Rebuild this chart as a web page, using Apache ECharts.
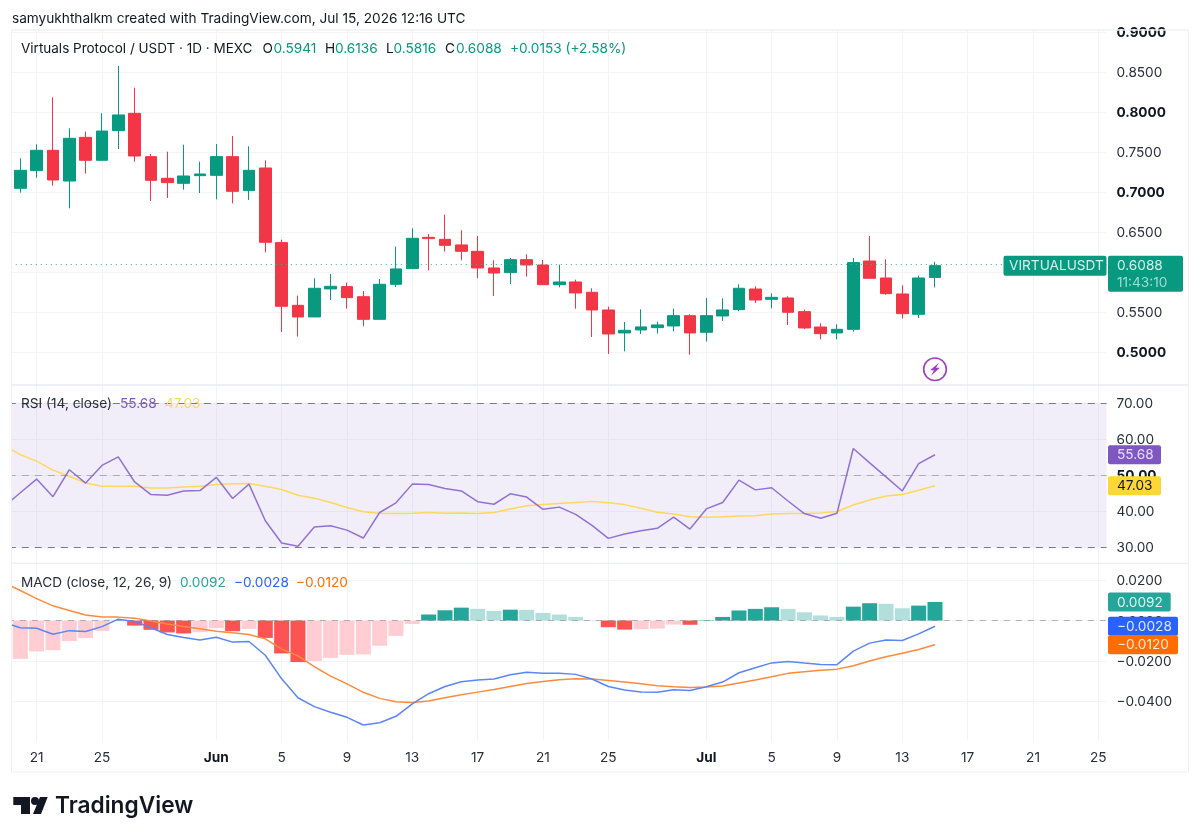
<!DOCTYPE html>
<html><head><meta charset="utf-8">
<style>html,body{margin:0;padding:0;background:#fff}#c{width:1200px;height:840px}</style>
<script src="https://cdn.jsdelivr.net/npm/echarts@6/dist/echarts.min.js"></script>
</head><body><div id="c"></div>
<script>
const categories=['May 19','May 20','May 21','May 22','May 23','May 24','May 25','May 26','May 27','May 28','May 29','May 30','May 31','Jun 1','Jun 2','Jun 3','Jun 4','Jun 5','Jun 6','Jun 7','Jun 8','Jun 9','Jun 10','Jun 11','Jun 12','Jun 13','Jun 14','Jun 15','Jun 16','Jun 17','Jun 18','Jun 19','Jun 20','Jun 21','Jun 22','Jun 23','Jun 24','Jun 25','Jun 26','Jun 27','Jun 28','Jun 29','Jun 30','Jul 1','Jul 2','Jul 3','Jul 4','Jul 5','Jul 6','Jul 7','Jul 8','Jul 9','Jul 10','Jul 11','Jul 12','Jul 13','Jul 14','Jul 15','Jul 16','Jul 17','Jul 18','Jul 19','Jul 20','Jul 21','Jul 22','Jul 23','Jul 24','Jul 25'];
const timeTicks=['May 21','May 25','Jun 1','Jun 5','Jun 9','Jun 13','Jun 17','Jun 21','Jun 25','Jul 1','Jul 5','Jul 9','Jul 13','Jul 17','Jul 21','Jul 25'];
const opens=[null,.7055,.7276,.753,.7146,.7692,.7405,.7776,.7992,.7451,.718,.7117,.7213,.7217,.7451,.7026,.7309,.6376,.5592,.5447,.5797,.5826,.57,.5417,.5855,.6051,.6442,.6417,.6347,.6267,.6059,.6001,.6163,.6096,.585,.5884,.5755,.5534,.5247,.5284,.5313,.5334,.5463,.5255,.5459,.5538,.5796,.5667,.5684,.5513,.5321,.5247,.5292,.6146,.5934,.5734,.548,.5941];
const highs=[null,.743,.7605,.8192,.7805,.7763,.7992,.8584,.8313,.7484,.7513,.76,.7388,.7609,.7709,.758,.7405,.6413,.5713,.593,.5984,.5876,.5771,.5921,.6326,.6555,.6484,.6726,.653,.6459,.6155,.6184,.623,.6159,.6101,.5913,.5805,.5576,.5384,.5542,.5388,.5551,.548,.5684,.568,.5855,.583,.5742,.5705,.5538,.5367,.5355,.6184,.6459,.6167,.5842,.5963,.6136];
const lows=[null,.7001,.7188,.7088,.6805,.7238,.7405,.7546,.7388,.6897,.6934,.7038,.6996,.6917,.6867,.6909,.6255,.5259,.5201,.5447,.5659,.5551,.533,.5417,.5821,.6051,.603,.6263,.6155,.593,.5709,.5859,.5951,.5846,.5817,.555,.5196,.4984,.5017,.5234,.5238,.5267,.4976,.5138,.5397,.5517,.5621,.5555,.5346,.5296,.5167,.5167,.5263,.593,.5726,.5426,.5434,.5816];
const closes=[null,.728,.753,.7159,.768,.7405,.7771,.7972,.7459,.7155,.7126,.7209,.7234,.7451,.7017,.728,.638,.558,.5447,.5805,.583,.5688,.5417,.5855,.6047,.643,.6426,.6342,.6267,.6059,.5996,.6163,.6096,.585,.5884,.5747,.5534,.5234,.528,.5322,.5347,.5463,.5247,.5463,.5534,.5805,.5659,.5692,.5505,.5309,.5238,.5292,.6126,.593,.5738,.5488,.5934,.6088];
const rsi=[41.2,45.1,48.9,44.0,51.5,47.8,52.7,55.1,48.1,44.6,44.4,45.6,45.7,49.4,43.5,47.5,37.3,31.1,30.2,35.6,35.9,34.7,32.5,39.6,42.3,47.5,47.4,46.3,45.6,42.6,41.9,44.8,43.9,40.5,41.1,39.1,36.0,32.4,33.6,34.5,35.2,38.3,35.0,40.6,42.4,48.6,45.9,46.5,42.8,39.3,38.0,39.4,57.4,53.4,49.5,45.6,53.2,55.68];
const rsiMa=[58.3,55.7,53.9,51.4,49.7,47.8,46.9,46.9,46.9,46.4,46.4,46.7,46.9,47.4,47.6,47.7,46.9,46.0,44.4,43.6,42.4,41.0,39.8,39.4,39.3,39.4,39.6,39.4,39.5,39.3,39.6,40.6,41.5,41.8,42.1,42.4,42.7,42.3,41.8,40.8,39.7,39.2,38.4,38.3,38.4,38.6,38.7,39.2,39.3,39.3,39.5,39.9,41.7,43.1,44.2,44.6,45.8,47.03];
const macdLine=[-.001,-.0036,-.0038,-.0068,-.005,-.0054,-.003,.0007,-.0005,-.0036,-.0069,-.0084,-.0096,-.0083,-.0107,-.0104,-.0172,-.0289,-.0383,-.0427,-.0455,-.048,-.0518,-.0507,-.0475,-.0413,-.0363,-.0327,-.0304,-.0295,-.029,-.0269,-.0257,-.0262,-.0261,-.0267,-.029,-.0327,-.0345,-.0355,-.0356,-.0343,-.0347,-.0328,-.0305,-.0259,-.0234,-.021,-.0203,-.0211,-.0218,-.0219,-.0152,-.0112,-.0096,-.0099,-.0066,-.0028];
const signalLine=[.0188,.0149,.0109,.0073,.005,.0028,.0018,.0017,.0012,-.0002,-.0017,-.003,-.0041,-.0053,-.0061,-.0069,-.0091,-.0142,-.0175,-.0229,-.0276,-.0314,-.0356,-.0386,-.0403,-.0406,-.0399,-.0383,-.0368,-.0355,-.0342,-.0327,-.0312,-.0302,-.0294,-.0289,-.029,-.0297,-.0305,-.0314,-.0323,-.0328,-.0332,-.033,-.0325,-.031,-.0295,-.0279,-.0262,-.0254,-.0246,-.0241,-.0224,-.0201,-.018,-.0162,-.0144,-.012];
const histogram=[-.0205,-.019,-.0153,-.0147,-.0102,-.0087,-.0051,-.0003,-.0025,-.0046,-.0059,-.0064,-.0058,-.0038,-.0053,-.0041,-.0086,-.0163,-.0206,-.0201,-.0185,-.017,-.0168,-.0125,-.0076,-.0017,.003,.0051,.0064,.0058,.0048,.0054,.0053,.0038,.003,.0018,.0002,-.0033,-.0045,-.0043,-.004,-.002,-.0021,.0002,.0018,.005,.0058,.0066,.0058,.0041,.0025,.0018,.0069,.0086,.0083,.0061,.0074,.0092];
const priceTicks=[.5,.55,.6,.65,.7,.75,.8,.85,.9];
const boldPrices=[.5,.7,.8,.9];
const rsiTicks=[30,40,50,60,70];
const macdTicks=[-.04,-.02,0,.02];
const lastOHLC={o:'0.5941',h:'0.6136',l:'0.5816',c:'0.6088',chg:'+0.0153 (+2.58%)'};

const C={up:'#089981',down:'#f23645',ink:'#131722',grid:'#f3f4f6',sep:'#e9ebef',rsi:'#7e57c2',ma:'#fdd835',blue:'#2962ff',orange:'#ff6d00',hUp:'#26a69a',hUpP:'#b2dfdb',hDn:'#ff5252',hDnP:'#ffcdd2'};
const FONT='Inter, "Noto Sans", sans-serif';
const FS=13.65;
const gridLeft=-4.2, gridW=1110.7;
const panes=[{top:30,h:355,min:.4596,max:.9034},{top:385,h:178.3,min:25.47,max:75.08},{top:563.3,h:177.4,min:-.0596,max:.0284}];
const isTick=(i)=>timeTicks.includes(categories[i]);

const xAxes=panes.map((p,k)=>({type:'category',gridIndex:k,data:categories,boundaryGap:true,
  axisLine:{show:false},axisTick:{show:false,alignWithLabel:true},
  splitLine:{show:true,alignWithLabel:true,interval:(i)=>isTick(i),lineStyle:{color:C.grid,width:1}},
  axisLabel:k<2?{show:false}:{show:true,interval:(i)=>isTick(i),margin:10,fontFamily:FONT,fontSize:FS,color:'#2a2e39',
    formatter:(v)=>{const [m,d]=v.split(' ');return d==='1'?`{b|${m}}`:d;},rich:{b:{fontWeight:700,fontFamily:FONT,fontSize:FS,color:C.ink}}}
}));
const yBase=(k,ticks,fmt,pad)=>({type:'value',gridIndex:k,position:'right',min:panes[k].min,max:panes[k].max,scale:true,
  axisLine:{show:false},axisTick:{show:false,customValues:ticks},
  splitLine:{show:true,lineStyle:{color:C.grid,width:1}},
  axisLabel:{show:true,customValues:ticks,margin:10,fontFamily:FONT,fontSize:FS,color:'#2a2e39',formatter:fmt,hideOverlap:false,showMinLabel:true,showMaxLabel:true,padding:[pad,0,0,0],
    rich:{b:{fontWeight:700,fontFamily:FONT,fontSize:FS,color:C.ink}}}});
const dash=(val,op)=>({yAxis:val,lineStyle:{color:'#787b86',type:[7,6],width:1.2,opacity:op}});
const lastClose=closes[closes.length-1];

const option={animation:false,backgroundColor:'#fff',textStyle:{fontFamily:FONT},
 grid:panes.map(p=>({left:gridLeft,width:gridW,top:p.top,height:p.h,containLabel:false,outerBoundsMode:'none'})),
 xAxis:xAxes,
 yAxis:[
  yBase(0,priceTicks,(v)=>{const s=(+v).toFixed(4);return boldPrices.some(b=>Math.abs(b-v)<1e-6)?`{b|${s}}`:s;},0),
  yBase(1,rsiTicks,(v)=>{const s=(+v).toFixed(2);return Math.abs(v-50)<1e-6?`{b|${s}}`:s;},2),
  yBase(2,macdTicks,(v)=>(+v).toFixed(4).replace('-','\u2212'),2)
 ],
 series:[
  {type:'candlestick',xAxisIndex:0,yAxisIndex:0,barWidth:12,
   data:opens.map((o,i)=>o===null?['-','-','-','-']:[o,closes[i],lows[i],highs[i]]),
   itemStyle:{color:C.up,color0:C.down,borderColor:C.up,borderColor0:C.down,borderWidth:1},
   markLine:{silent:true,symbol:'none',label:{show:false},data:[{yAxis:lastClose,lineStyle:{color:'#3bb09c',type:[1,4],width:1}}]}},
  {type:'line',name:'RSI MA',xAxisIndex:1,yAxisIndex:1,data:rsiMa,showSymbol:false,lineStyle:{color:'#fdd85a',width:1.5},z:3},
  {type:'line',name:'RSI',xAxisIndex:1,yAxisIndex:1,data:rsi,showSymbol:false,lineStyle:{color:'#9172d2',width:1.5},z:4,
   markArea:{silent:true,itemStyle:{color:'rgba(126,87,194,0.1)'},data:[[{yAxis:30},{yAxis:70}]]},
   markLine:{silent:true,symbol:'none',label:{show:false},data:[dash(70,1),dash(50,.55),dash(30,1)]}},
  {type:'bar',name:'Histogram',xAxisIndex:2,yAxisIndex:2,barWidth:15,
   data:histogram.map((v,i)=>{const p=i?histogram[i-1]:v;const col=v>=0?(v>=p?C.hUp:C.hUpP):(v<=p?C.hDn:C.hDnP);return {value:v,itemStyle:{color:col}};}),
   markLine:{silent:true,symbol:'none',label:{show:false},data:[{yAxis:0,lineStyle:{color:'#787b86',type:[6,6],width:1,opacity:.55}}]}},
  {type:'line',name:'Signal',xAxisIndex:2,yAxisIndex:2,data:signalLine,showSymbol:false,lineStyle:{color:'#ff8a3d',width:1.5},z:4},
  {type:'line',name:'MACD',xAxisIndex:2,yAxisIndex:2,data:macdLine,showSymbol:false,lineStyle:{color:'#5b86f5',width:1.5},z:5}
 ]};
const chart=echarts.init(document.getElementById('c'),null,{renderer:'canvas'});
chart.setOption(option);

const yPx=(k,v)=>chart.convertToPixel({yAxisIndex:k},v);
const xPx=(i)=>chart.convertToPixel({xAxisIndex:0},i);
const tag=(k,v,x2,txt,fill,ink)=>{const y=yPx(k,v);return [
  {type:'rect',z:30,shape:{x:1108,y:y-9.5,width:x2-1108,height:19,r:2},style:{fill}},
  {type:'text',z:31,style:{x:1117,y:y+.5,text:txt,fill:ink,font:`${FS}px ${FONT}`,textVerticalAlign:'middle'}}];};
const line=(x1,y1,x2,y2,c,w)=>({type:'line',z:20,shape:{x1,y1,x2,y2},style:{stroke:c||C.sep,lineWidth:w||1}});
const lastY=yPx(0,lastClose);
const lastX=xPx(categories.indexOf('Jul 15'));
const flashY=yPx(0,.4793);
const txt=(x,y,text,fill,fs)=>({type:'text',z:25,style:{x,y,text,fill,font:`${fs||FS}px ${FONT}`,textVerticalAlign:'middle'}});
const gfx=[
  {type:'rect',z:19,shape:{x:0,y:0,width:11,height:840},style:{fill:'#fff'}},
  {type:'rect',z:19,shape:{x:1108,y:18,width:80,height:9},style:{fill:'#fff'}},
  line(11,30,1188,30,'#eef0f3',1.5),line(11.5,30,11.5,772,'#eef0f3'),line(1188.5,30,1188.5,772,'#eef0f3'),line(11,772,1188,772,'#eef0f3'),
  line(11,385,1188,385,C.sep,1.5),line(11,563.3,1188,563.3,C.sep,1),
  txt(12,18.5,'samyukhthalkm created with TradingView.com, Jul 15, 2026 12:16 UTC',C.ink),
  txt(21,48.5,'Virtuals Protocol / USDT \u00b7 1D \u00b7 MEXC',C.ink,13.5),
  txt(262.5,48.5,'O',C.ink),txt(273.5,48.5,lastOHLC.o,C.up),
  txt(325,48.5,'H',C.ink),txt(335,48.5,lastOHLC.h,C.up),
  txt(386,48.5,'L',C.ink),txt(393.5,48.5,lastOHLC.l,C.up),
  txt(445,48.5,'C',C.ink),txt(456,48.5,lastOHLC.c,C.up),
  txt(510,48.5,lastOHLC.chg,C.up),
  txt(21,403.5,'RSI (14, close)','#2a2e39'),
  txt(120,403.5,'55.68',C.rsi),
  txt(165,403.5,'47.03','#fdd85a'),
  txt(21,582.5,'MACD (close, 12, 26, 9)','#2a2e39'),
  txt(180,582.5,'0.0092',C.hUp),
  txt(234,582.5,'\u22120.0028',C.blue),
  txt(296,582.5,'\u22120.0120',C.orange),
  {type:'rect',z:30,shape:{x:1003.5,y:lastY-10,width:103,height:20,r:2},style:{fill:C.up}},
  {type:'text',z:31,style:{x:1009,y:lastY+.5,text:'VIRTUALUSDT',fill:'#d6f0ea',font:`${FS}px ${FONT}`,textVerticalAlign:'middle'}},
  {type:'rect',z:30,shape:{x:1108,y:lastY-10,width:75,height:36,r:2},style:{fill:C.up}},
  {type:'text',z:31,style:{x:1117,y:lastY+.5,text:'0.6088',fill:'#d6f0ea',font:`${FS}px ${FONT}`,textVerticalAlign:'middle'}},
  {type:'text',z:31,style:{x:1117,y:lastY+17,text:'11:43:10',fill:'#9fdccd',font:`${FS}px ${FONT}`,textVerticalAlign:'middle'}},
  ...tag(1,rsi[rsi.length-1],1161,'55.68',C.rsi,'#e6dcf7'),
  ...tag(1,rsiMa[rsiMa.length-1],1161,'47.03',C.ma,C.ink),
  ...tag(2,histogram[histogram.length-1],1170.7,'0.0092',C.hUp,'#dff3f0'),
  ...tag(2,macdLine[macdLine.length-1],1178,'\u22120.0028',C.blue,'#dfe7ff'),
  ...tag(2,signalLine[signalLine.length-1],1178,'\u22120.0120',C.orange,'#ffe8d8'),
  {type:'circle',z:26,shape:{cx:lastX,cy:flashY,r:11.3},style:{fill:'#fff',stroke:'#9c3fc0',lineWidth:1.6}},
  {type:'polygon',z:27,shape:{points:[[lastX+4,flashY-6.5],[lastX-5,flashY+1],[lastX-1,flashY+1],[lastX-4,flashY+6.5],[lastX+5,flashY-1.5],[lastX+1,flashY-1.5]]},style:{fill:'#9c3fc0'}},
  {type:'polygon',z:25,shape:{points:[[13.3,797],[30,797],[30,814],[21,814],[21,805],[13.3,805]]},style:{fill:C.ink}},
  {type:'circle',z:25,shape:{cx:35,cy:801,r:4},style:{fill:C.ink}},
  {type:'polygon',z:25,shape:{points:[[40,797],[47.7,797],[41,814],[33,814]]},style:{fill:C.ink}},
  {type:'text',z:25,style:{x:55,y:806,text:'TradingView',fill:C.ink,font:`600 22.7px ${FONT}`,textVerticalAlign:'middle'}}
];
chart.setOption({graphic:gfx});
</script></body></html>
